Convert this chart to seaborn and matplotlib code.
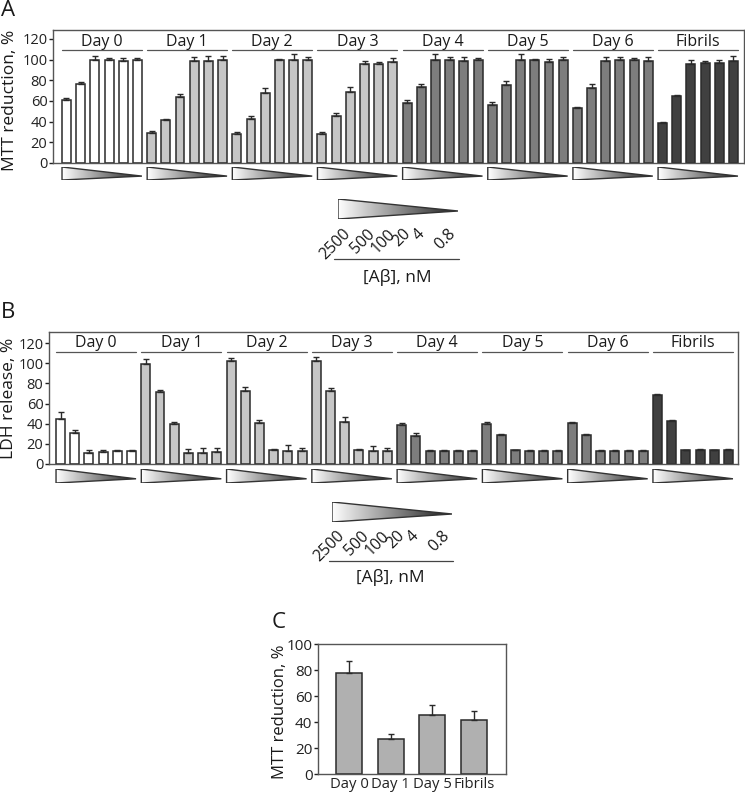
import numpy as np
import pandas as pd
import seaborn as sns
import matplotlib
matplotlib.use("Agg")
import matplotlib.pyplot as plt
from matplotlib.colors import LinearSegmentedColormap
from matplotlib.patches import Polygon
from matplotlib.lines import Line2D

# ---------------- data ----------------
groups = ["Day 0", "Day 1", "Day 2", "Day 3", "Day 4", "Day 5", "Day 6", "Fibrils"]
conc_labels = ["2500", "500", "100", "20", "4", "0.8"]
group_colors = ["#ffffff", "#c6c6c6", "#c6c6c6", "#c6c6c6",
                "#7d7d7d", "#7d7d7d", "#7d7d7d", "#404040"]

mtt_means = [61, 76, 100, 100, 99, 100,
             29, 42, 64, 99, 99, 100,
             28, 43, 68, 100, 100, 100,
             28, 45, 69, 96, 96, 98,
             58, 74, 100, 100, 99, 100,
             56, 75, 100, 100, 98, 100,
             53, 73, 99, 100, 100, 99,
             39, 65, 96, 97, 97, 99]
mtt_errs = [2, 2, 4, 2, 3, 2,
            1.5, 1, 3, 4, 5, 4,
            2, 2, 5, 1, 5, 3,
            2, 3, 5, 3, 2, 4,
            3, 2, 5, 3, 4, 2,
            3, 4, 5, 1, 3, 3,
            1.5, 3, 4, 3, 2, 4,
            1, 1, 4, 2, 3, 5]

ldh_means = [45, 31, 11, 12, 13, 13,
             99, 71, 40, 11, 11, 12,
             102, 72, 41, 14, 13, 13,
             102, 72, 42, 14, 13, 13,
             39, 28, 13, 13, 13, 13,
             40, 29, 13.5, 13, 13, 13,
             41, 29, 13, 13, 13, 13,
             68, 43, 13.5, 14, 13.5, 14]
ldh_errs = [7, 3, 2.5, 1.5, 1, 1,
            5, 2, 2, 4, 5, 4,
            3, 4, 3, 1, 6, 3,
            4, 3, 5, 1, 5, 3,
            2, 3, 0.5, 0.5, 0.5, 0.5,
            2, 1, 0.5, 0.5, 0.5, 0.5,
            1, 1, 0.5, 0.5, 0.5, 0.5,
            1, 1, 0.5, 0.5, 0.5, 0.5]

c_labels = ["Day 0", "Day 1", "Day 5", "Fibrils"]
c_means = [77.6, 26.7, 45.1, 41.3]
c_errs = [9, 4.3, 7.7, 7]

# ---------------- style ----------------
sns.set_theme(style="white")
FONT = ["Open Sans", "DejaVu Sans"]
plt.rcParams["font.family"] = FONT
plt.rcParams["axes.edgecolor"] = "#444444"
plt.rcParams["axes.linewidth"] = 1.0

W, H = 745, 793
fig = plt.figure(figsize=(W / 100, H / 100), dpi=100)


def fbox(x0, y0, x1, y1):
    """pixel box (top-left origin) -> figure fraction rect"""
    return [x0 / W, 1 - y1 / H, (x1 - x0) / W, (y1 - y0) / H]


def fx(x):
    return x / W


def fy(y):
    return 1 - y / H


grad_cmap = LinearSegmentedColormap.from_list("g", ["#ffffff", "#1c1c1c"])
BAR_W = 0.63
n_per = len(conc_labels)
TXT = "#1a1a1a"


def bar_panel(rect, means, errs, ylim, xlim, ylabel_pos, ylabel, label_y, line_y):
    ax = fig.add_axes(rect)
    n = len(means)
    pos = np.arange(n)
    grp = np.repeat(np.arange(len(groups)), n_per)
    cols = [group_colors[g] for g in grp]
    df = pd.DataFrame({"pos": pos, "val": means})
    sns.barplot(data=df, x="pos", y="val", hue="pos", palette=cols, legend=False,
                width=BAR_W, edgecolor="#2a2a2a", linewidth=1.1, ax=ax,
                saturation=1)
    ax.errorbar(pos, means, yerr=[np.zeros(n), errs], fmt="none",
                ecolor="#2a2a2a", elinewidth=1.0, capsize=2.5, capthick=1.0,
                zorder=1)
    ax.set_ylim(*ylim)
    ax.set_xlim(*xlim)
    ax.set_yticks(range(0, 121, 20))
    ax.set_xticks([])
    ax.set_xlabel("")
    ax.set_ylabel("")
    ax.tick_params(axis="y", direction="out", length=3, width=1, pad=1,
                   labelsize=10.5, left=True, colors="#222222")
    for s in ax.spines.values():
        s.set_color("#555555")
        s.set_linewidth(1.0)
    for g, name in enumerate(groups):
        x0 = g * n_per - BAR_W / 2
        x1 = g * n_per + n_per - 1 + BAR_W / 2
        ax.plot([x0, x1], [line_y, line_y], color="#555555", lw=0.9,
                clip_on=False)
        ax.text((x0 + x1) / 2, label_y, name, ha="center", va="center",
                fontsize=11.5, color=TXT, family=FONT)
    fig.text(fx(ylabel_pos[0]), fy(ylabel_pos[1]), ylabel, rotation=90,
             ha="center", va="center", fontsize=12.5, color=TXT, family=FONT)
    return ax


def tri_row(rect, xlim):
    axt = fig.add_axes(rect)
    axt.set_xlim(*xlim)
    axt.set_ylim(0, 1)
    axt.axis("off")
    grad = np.linspace(0, 1, 256).reshape(1, -1)
    for g in range(len(groups)):
        x0 = g * n_per - BAR_W / 2
        x1 = g * n_per + n_per - 1 + BAR_W / 2
        verts = [(x0, 1), (x0, 0), (x1, 0.3)]
        poly = Polygon(verts, closed=True, facecolor="none",
                       edgecolor="#333333", lw=1.0, zorder=3)
        axt.add_patch(poly)
        im = axt.imshow(grad, cmap=grad_cmap, extent=[x0, x1, 0, 1],
                        aspect="auto", zorder=2)
        im.set_clip_path(poly)
    return axt


def conc_legend(tx0, ty0, ends, label_top, line_y, line_x, text_xy):
    axl = fig.add_axes(fbox(tx0, ty0, tx0 + 120, ty0 + 20))
    axl.set_xlim(0, 1)
    axl.set_ylim(0, 1)
    axl.axis("off")
    grad = np.linspace(0, 1, 256).reshape(1, -1)
    poly = Polygon([(0, 1), (0, 0), (1, 0.4)], closed=True, facecolor="none",
                   edgecolor="#333333", lw=1.0, zorder=3)
    axl.add_patch(poly)
    im = axl.imshow(grad, cmap=grad_cmap, extent=[0, 1, 0, 1], aspect="auto",
                    zorder=2)
    im.set_clip_path(poly)
    for lab, xe in zip(conc_labels, ends):
        fig.text(fx(xe), fy(label_top), lab, rotation=45, ha="right", va="top",
                 fontsize=11.5, color=TXT, family=FONT)
    fig.add_artist(Line2D([fx(line_x[0]), fx(line_x[1])], [fy(line_y), fy(line_y)],
                          color="#444444", lw=0.9))
    fig.text(fx(text_xy[0]), fy(text_xy[1]), "[Aβ], nM", ha="center",
             va="center", fontsize=12.5, color=TXT, family=FONT)


# ---------------- Panel A ----------------
xlimA = (-0.95, 47.74)
axA = bar_panel(fbox(53, 30, 744, 163), mtt_means, mtt_errs, (0, 128.7), xlimA,
                (10, 100), "MTT reduction, %", 117, 109.4)
tri_row(fbox(53, 167, 744, 180), xlimA)
conc_legend(338, 199, [354, 378, 399, 414, 428, 459], 226, 259, (334, 459),
            (397, 278))
fig.text(fx(8), fy(11), "A", ha="center", va="center", fontsize=16,
         color=TXT, family=FONT)

# ---------------- Panel B ----------------
xlimB = (-0.81, 47.67)
axB = bar_panel(fbox(49, 332, 738, 464), ldh_means, ldh_errs, (0, 131), xlimB,
                (9, 398), "LDH release, %", 120, 111)
tri_row(fbox(49, 469, 738, 483), xlimB)
conc_legend(332, 502, [348, 372, 393, 408, 422, 453], 528, 561, (329, 453),
            (390, 578))
fig.text(fx(8), fy(313), "B", ha="center", va="center", fontsize=16,
         color=TXT, family=FONT)

# ---------------- Panel C ----------------
axC = fig.add_axes(fbox(318, 644, 506, 774))
dfc = pd.DataFrame({"cond": c_labels, "val": c_means})
sns.barplot(data=dfc, x="cond", y="val", color="#b0b0b0", saturation=1,
            width=0.62, edgecolor="#2a2a2a", linewidth=1.1, ax=axC)
axC.errorbar(np.arange(len(c_means)), c_means,
             yerr=[np.zeros(len(c_errs)), c_errs], fmt="none", ecolor="#2a2a2a",
             elinewidth=1.0, capsize=2.5, capthick=1.0, zorder=1)
axC.set_ylim(0, 100)
axC.set_xlim(-0.75, 3.77)
axC.set_yticks(range(0, 101, 20))
axC.set_xlabel("")
axC.set_ylabel("")
axC.tick_params(axis="y", direction="out", length=3, width=1, pad=1,
                labelsize=11, left=True, colors="#222222")
axC.tick_params(axis="x", length=0, pad=2, labelsize=10.7, colors="#222222")
for s in axC.spines.values():
    s.set_color("#555555")
    s.set_linewidth(1.0)
fig.text(fx(280), fy(712), "MTT reduction, %", rotation=90, ha="center",
         va="center", fontsize=12, color=TXT, family=FONT)
fig.text(fx(279), fy(623), "C", ha="center", va="center", fontsize=16,
         color=TXT, family=FONT)

fig.savefig("out.png", dpi=100)
